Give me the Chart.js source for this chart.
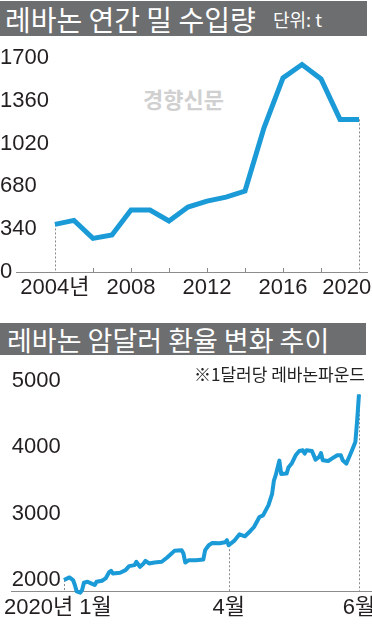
<!DOCTYPE html>
<html><head><meta charset="utf-8">
<script src="https://cdn.jsdelivr.net/npm/chart.js@4/dist/chart.umd.min.js"></script>
<style>
html,body{margin:0;padding:0;width:372px;height:624px;overflow:hidden;background:#fff;}
.band{position:absolute;left:0;background:#6d6e70;color:#fff;font-family:'Noto Sans CJK KR',sans-serif;white-space:nowrap;overflow:hidden;}
.band span{position:absolute;top:0;}
canvas{position:absolute;left:0;}
#wm{position:absolute;left:143px;top:84px;font-family:'Noto Sans CJK KR',sans-serif;font-weight:700;font-size:22px;line-height:28px;color:#d0d0d0;white-space:nowrap;}
#note{position:absolute;right:7px;top:362px;font-family:'Noto Sans CJK KR',sans-serif;font-size:17px;line-height:24px;color:#222;white-space:nowrap;z-index:2;}
</style></head><body>
<div class="band" style="top:1px;width:367px;height:35px;">
  <span style="left:5px;font-size:28px;line-height:37px;">레바논 연간 밀 수입량</span>
  <span style="left:273px;font-size:18px;line-height:37px;">단위: t</span>
</div>
<div id="wm">경향신문</div>
<canvas id="c1" width="400" height="265" style="top:40px;"></canvas>
<div class="band" style="top:323px;width:366px;height:32px;">
  <span style="left:7px;font-size:27px;line-height:34px;">레바논 암달러 환율 변화 추이</span>
</div>
<div id="note">※1달러당 레바논파운드</div>
<canvas id="c2" width="400" height="264" style="top:360px;"></canvas>
<script>
// ---- data: annual wheat imports (t) ----
const importYears = [2004,2005,2006,2007,2008,2009,2010,2011,2012,2013,2014,2015,2016,2017,2018,2019,2020];
const importTons  = [378,410,267,294,492,492,405,516,563,595,643,1145,1542,1648,1534,1212,1212];
const importTicks = [0,340,680,1020,1360,1700];
const importMarkYears = [2006,2008,2010,2012,2014,2016,2018];
const importLabelYears = [2004,2008,2012,2016,2020];
const importLabelTexts = ['2004년','2008','2012','2016','2020    '];

// ---- data: black-market exchange rate (LBP per USD), days since 2020-01-01 ----
const fxDays  = [0,3,5,6,7,9,10,11,13,15,17,18,21,23,25,26,27,31,34,36,39,40,42,44,45,47,50,54,57,59,61,65,66,67,69,73,77,78,80,82,86,89,90,91,94,97,100,103,105,108,110,113,115,116,117,119,120,123,124,126,128,130,132,133,134,137,139,141,142,143,146,148,151,153,154,156,158,159,161,162,163];
const fxRates = [2000,2040,2000,1925,1830,1810,1850,1960,1975,1950,1925,1975,1990,2025,2120,2140,2100,2110,2150,2210,2225,2275,2200,2250,2290,2250,2265,2275,2340,2390,2440,2450,2400,2265,2300,2300,2310,2450,2525,2560,2555,2570,2600,2525,2590,2690,2660,2740,2800,2950,2975,3130,3300,3500,3580,3800,3600,3605,3695,3765,3880,3945,3955,3905,3955,3945,3815,3855,3915,3805,3795,3830,3880,3880,3805,3755,3880,3945,4080,4405,4800];
const fxTicks = [2000,3000,4000,5000];
const fxLabelDays = [0,91,163];
const fxLabelTexts = ['2020년 1월  ','4월','6월'];
const fxGuideDays = [0,91,163];

const BLUE = '#1a9ad6';
const TXT = '#231f20';
const FONT = "'Liberation Sans Narrow','Liberation Sans','Noto Sans CJK KR',sans-serif";
const TICKFONT = {family: FONT, size: 22, style: 'condensed'};

const guidePlugin = {
  id: 'guides',
  beforeDatasetsDraw(chart, args, opts) {
    const {ctx} = chart; const x = chart.scales.x, y = chart.scales.y;
    const pts = chart.data.datasets[0].data;
    ctx.save();
    ctx.strokeStyle = '#8a8a8a'; ctx.lineWidth = 1;
    ctx.setLineDash([2,2]);
    (opts.at || []).forEach(xv => {
      const p = pts.find(q => q.x === xv);
      const px = Math.round(x.getPixelForValue(p.x)) + 0.5;
      ctx.beginPath(); ctx.moveTo(px, y.getPixelForValue(p.y)); ctx.lineTo(px, y.bottom); ctx.stroke();
    });
    ctx.setLineDash([]);
    (opts.marks || []).forEach(v => {
      const px = Math.round(x.getPixelForValue(v)) + 0.5;
      ctx.beginPath(); ctx.moveTo(px, y.bottom); ctx.lineTo(px, y.bottom - 4); ctx.stroke();
    });
    ctx.restore();
  }
};

function makeChart(id, xs, ys, cfg) {
  return new Chart(document.getElementById(id), {
    type: 'line',
    data: { datasets: [{
      data: xs.map((v,i) => ({x: v, y: ys[i]})),
      borderColor: BLUE, borderWidth: cfg.lw, pointRadius: 0, tension: 0,
      borderJoinStyle: cfg.join, clip: false, fill: false
    }]},
    options: {
      responsive: false, animation: false, devicePixelRatio: 1,
      layout: { padding: cfg.pad },
      plugins: { legend: {display:false}, tooltip: {enabled:false}, guides: cfg.guides },
      scales: {
        x: {
          type: 'linear', min: cfg.xmin, max: cfg.xmax,
          afterBuildTicks: s => { s.ticks = cfg.xLabelVals.map(v => ({value: v})); },
          afterFit: s => { s.height = cfg.xh; },
          ticks: { autoSkip: false, maxRotation: 0, padding: cfg.xpad, color: TXT, font: TICKFONT,
                   callback: v => cfg.xLabelTexts[cfg.xLabelVals.indexOf(v)] },
          grid: { display: true, drawOnChartArea: false, drawTicks: false, color: 'rgba(0,0,0,0)' },
          border: { display: true, color: '#8c8c8c', width: 1 }
        },
        y: {
          min: cfg.ymin, max: cfg.ymax,
          afterBuildTicks: s => { s.ticks = cfg.yTicks.map(v => ({value: v})); },
          afterFit: s => { s.width = cfg.yw; },
          ticks: { mirror: true, crossAlign: 'near', padding: -cfg.yw, color: TXT, font: TICKFONT,
                   callback: v => String(v) },
          grid: { display: false, drawTicks: false },
          border: { display: false }
        }
      }
    },
    plugins: [guidePlugin]
  });
}

makeChart('c1', importYears, importTons, {
  lw: 5, join: 'miter', pad: {left: 0, top: 18, right: 33, bottom: 0},
  xmin: 2001.95, xmax: 2020.42, xh: 33, xpad: 3, xLabelVals: importLabelYears, xLabelTexts: importLabelTexts,
  ymin: 0, ymax: 1700, yTicks: importTicks, yw: 16,
  guides: { at: [importYears[0], importYears[importYears.length-1]], marks: importMarkYears }
});

makeChart('c2', fxDays, fxRates, {
  lw: 4, join: 'round', pad: {left: 0, top: 21, right: 28, bottom: 0},
  xmin: -28.9, xmax: 170.2, xh: 33, xpad: 4, xLabelVals: fxLabelDays, xLabelTexts: fxLabelTexts,
  ymin: 1835, ymax: 5000, yTicks: fxTicks, yw: 0,
  guides: { at: fxGuideDays, marks: [] }
});
</script>
</body></html>
